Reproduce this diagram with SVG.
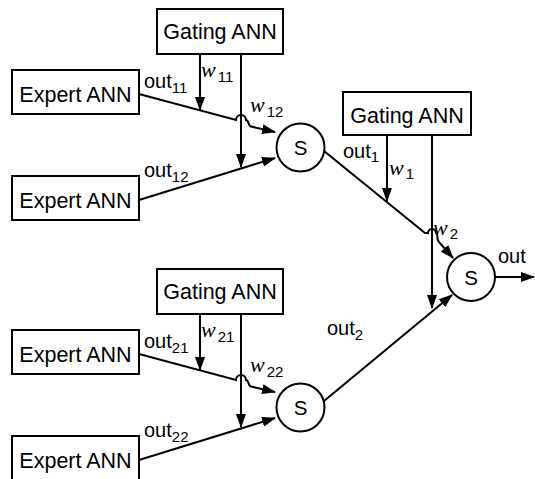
<svg xmlns="http://www.w3.org/2000/svg" width="535" height="479" viewBox="0 0 535 479">
<style>
.box{fill:#fff;stroke:#000;stroke-width:2}
.circ{fill:#fff;stroke:#000;stroke-width:2}
.lbl{font-family:"Liberation Sans",Arial,sans-serif;font-size:21.5px;fill:#000;text-anchor:middle}
.s{font-family:"Liberation Sans",Arial,sans-serif;font-size:20.5px;fill:#000;text-anchor:middle}
.e{fill:none;stroke:#000;stroke-width:2}
.o{font-family:"Liberation Sans",Arial,sans-serif;font-size:20px;fill:#000}
.w{font-family:"Liberation Serif","Times New Roman",serif;font-style:italic;font-size:22px;fill:#000}
.sub{font-family:"Liberation Sans",Arial,sans-serif;font-style:normal;font-size:15px}
</style>
<defs>
<marker id="ah" viewBox="0 0 14 10" markerWidth="14" markerHeight="10" refX="13" refY="5" markerUnits="userSpaceOnUse" orient="auto">
<path d="M0,0 L14,5 L0,10 z" fill="#000"/>
</marker>
</defs>

<g id="connectors">
<!-- block 1 -->
<path class="e" d="M139,94 L236,120 A5,5 0 0 1 246,120 C249,120 248,126 251,126.5 L275,132" marker-end="url(#ah)"/>
<path class="e" d="M139,200 L275,158" marker-end="url(#ah)"/>
<path class="e" d="M200,54 L200,110" marker-end="url(#ah)"/>
<path class="e" d="M241,54 L241,167" marker-end="url(#ah)"/>
<!-- block 2 -->
<path class="e" d="M139,354 L236,380 A5,5 0 0 1 246,380 C249,380 248,386 251,386.5 L275,392" marker-end="url(#ah)"/>
<path class="e" d="M139,460 L275,418" marker-end="url(#ah)"/>
<path class="e" d="M200,314 L200,370" marker-end="url(#ah)"/>
<path class="e" d="M241,314 L241,427" marker-end="url(#ah)"/>
<!-- right block -->
<path class="e" d="M324,151 L425,233 L428,233 A4,4 0 0 1 436,233 C438.5,233 436,240 439.5,242.5 L453,258" marker-end="url(#ah)"/>
<path class="e" d="M324,401 L452,295" marker-end="url(#ah)"/>
<path class="e" d="M387,135 L387,201" marker-end="url(#ah)"/>
<path class="e" d="M432,135 L432,308" marker-end="url(#ah)"/>
<path class="e" d="M495,277 L534,277" marker-end="url(#ah)"/>
<!-- labels -->
<text class="o" x="144" y="87.5">out<tspan class="sub" dy="5">11</tspan></text>
<text class="w" x="201" y="77">w<tspan class="sub" dx="2" dy="5">11</tspan></text>
<text class="w" x="250" y="111.5">w<tspan class="sub" dx="2" dy="5">12</tspan></text>
<text class="o" x="144" y="176.5">out<tspan class="sub" dy="5">12</tspan></text>
<text class="o" x="144" y="347.5">out<tspan class="sub" dy="5">21</tspan></text>
<text class="w" x="201" y="337">w<tspan class="sub" dx="2" dy="5">21</tspan></text>
<text class="w" x="250" y="371.5">w<tspan class="sub" dx="2" dy="5">22</tspan></text>
<text class="o" x="144" y="436.5">out<tspan class="sub" dy="5">22</tspan></text>
<text class="o" x="343" y="158">out<tspan class="sub" dy="4">1</tspan></text>
<text class="w" x="389" y="175">w<tspan class="sub" dx="2" dy="4">1</tspan></text>
<text class="w" x="433" y="235">w<tspan class="sub" dx="2" dy="4">2</tspan></text>
<text class="o" x="327" y="335">out<tspan class="sub" dy="5">2</tspan></text>
<text class="o" x="498" y="263">out</text>
</g>

<g id="gating1"><rect class="box" x="157" y="9" width="126" height="45"/><text class="lbl" x="220" y="39.3">Gating ANN</text></g>
<g id="expert11"><rect class="box" x="12" y="70" width="127" height="44"/><text class="lbl" x="75.5" y="101.7">Expert ANN</text></g>
<g id="expert12"><rect class="box" x="12" y="176" width="127" height="44"/><text class="lbl" x="75.5" y="207.7">Expert ANN</text></g>
<g id="sum1"><circle class="circ" cx="300.5" cy="147.5" r="24"/><text class="s" x="300.5" y="155">S</text></g>

<g id="gating2"><rect class="box" x="157" y="269" width="126" height="45"/><text class="lbl" x="220" y="299.3">Gating ANN</text></g>
<g id="expert21"><rect class="box" x="12" y="330" width="127" height="44"/><text class="lbl" x="75.5" y="361.7">Expert ANN</text></g>
<g id="expert22"><rect class="box" x="12" y="436" width="127" height="44"/><text class="lbl" x="75.5" y="467.7">Expert ANN</text></g>
<g id="sum2"><circle class="circ" cx="300.5" cy="407.5" r="24"/><text class="s" x="300.5" y="415">S</text></g>

<g id="gating3"><rect class="box" x="343" y="92" width="128" height="43"/><text class="lbl" x="407" y="123.3">Gating ANN</text></g>
<g id="sum3"><circle class="circ" cx="471" cy="277" r="24"/><text class="s" x="471" y="284.5">S</text></g>
</svg>
